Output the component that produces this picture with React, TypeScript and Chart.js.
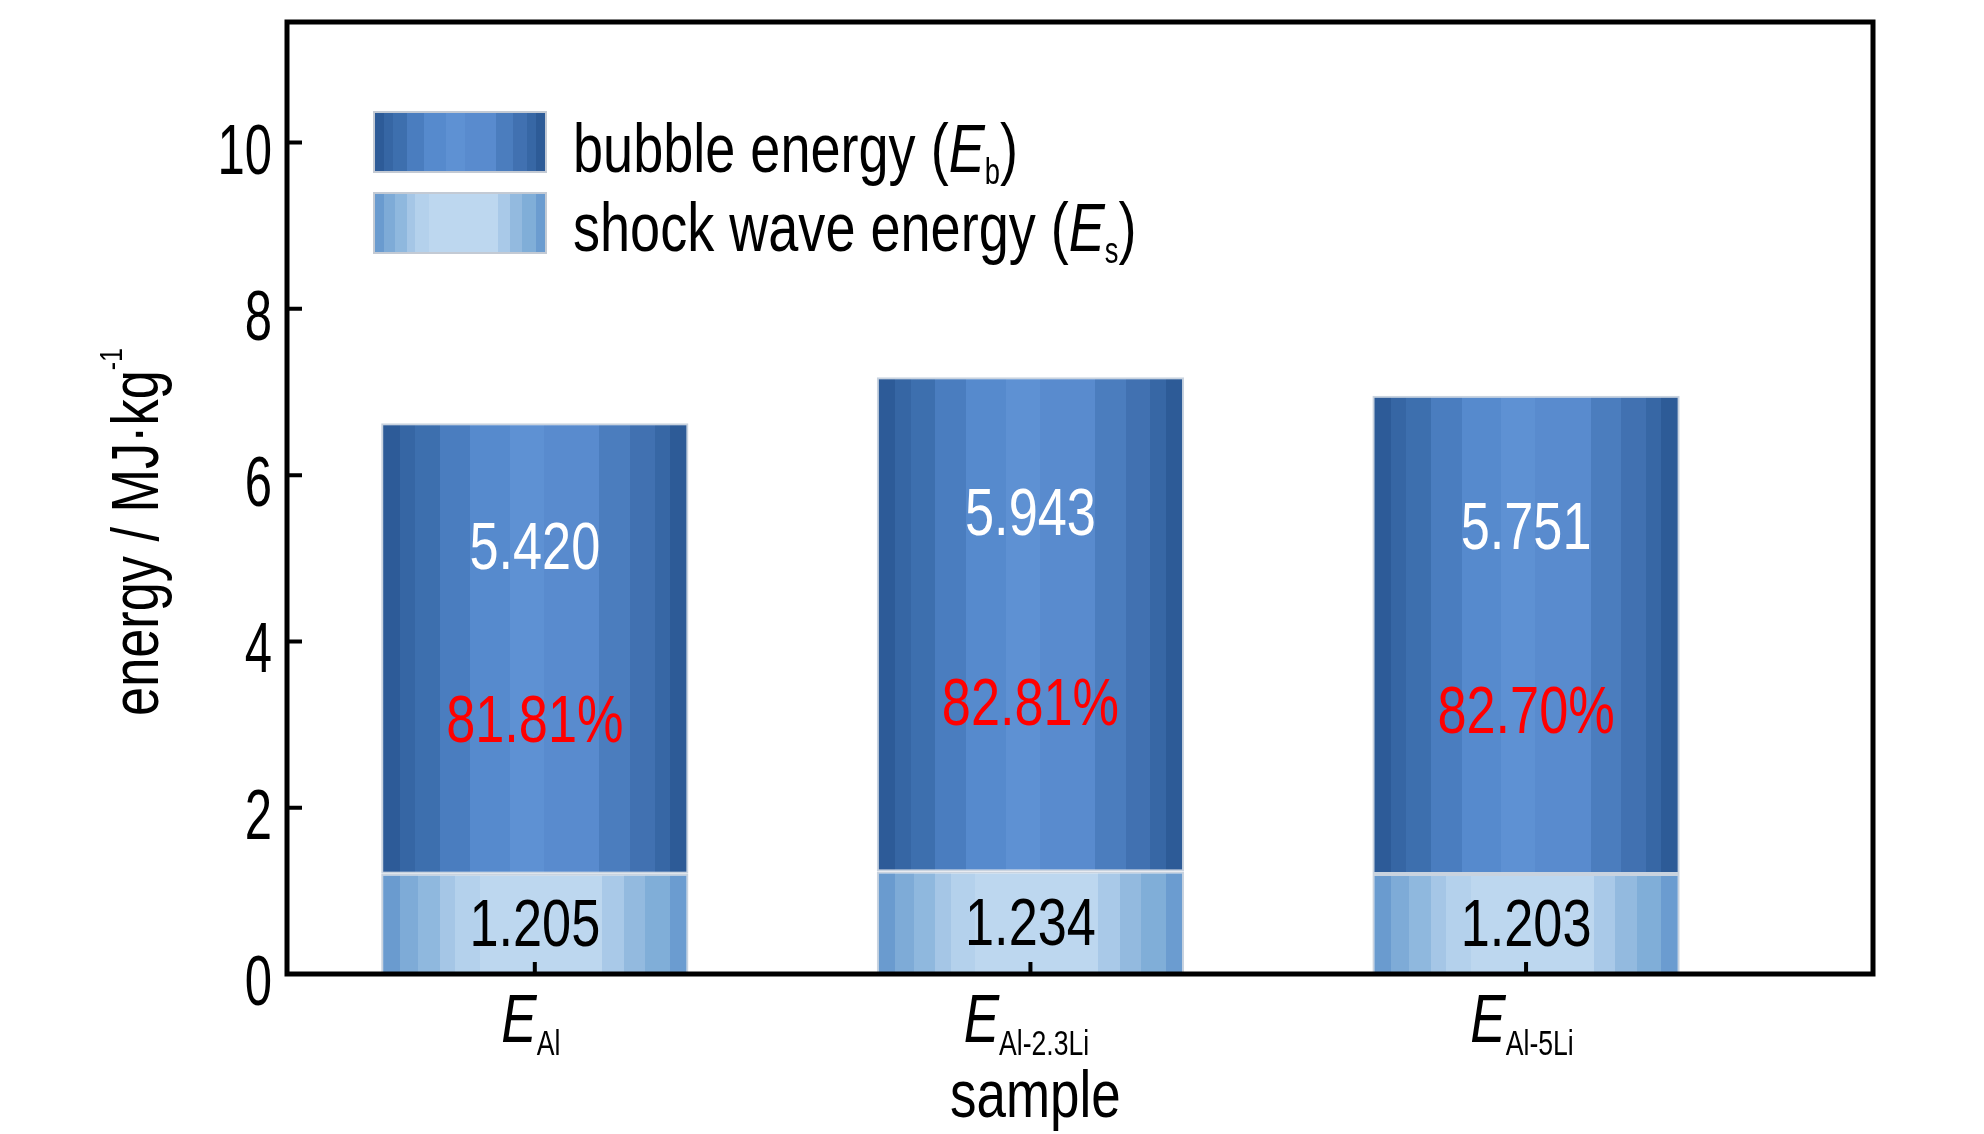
import React, { useEffect, useRef } from 'react';
import { Chart, registerables } from 'chart.js';

Chart.register(...registerables);

const W = 1984;
const H = 1134;

// values
const sampleSubs = ['Al', 'Al-2.3Li', 'Al-5Li'];
const sampleX = [1, 2, 3];
const shockEnergy = [1.205, 1.234, 1.203];
const bubbleEnergy = [5.42, 5.943, 5.751];
const yTicks = [0, 2, 4, 6, 8, 10];

const FONT = '"Liberation Sans", Arial, Helvetica, sans-serif';
const NARROW = 0.78; // the figure uses a condensed face
const BAR_FRAC = 0.62;

// vertical banding of the bars, left to right: [end fraction, colour]
const bubbleBands: [number, string][] = [
  [0.06, '#2d5b98'], [0.11, '#3666a4'], [0.19, '#3d6fae'], [0.29, '#4a7dbf'],
  [0.42, '#568acd'], [0.53, '#5e91d3'], [0.71, '#598bce'], [0.81, '#4b7dbe'],
  [0.89, '#4171b1'], [0.94, '#3767a5'], [1, '#2d5b97'],
];
const shockBands: [number, string][] = [
  [0.06, '#6a9bcf'], [0.12, '#7eabd7'], [0.19, '#8fb8de'], [0.24, '#a5c6e6'],
  [0.32, '#b4d1ec'], [0.72, '#bdd7ef'], [0.79, '#a9c9e8'], [0.86, '#93badf'],
  [0.94, '#80aed8'], [1, '#6b9cd0'],
];

function bandGradient(ctx: CanvasRenderingContext2D, x0: number, x1: number, bands: [number, string][]) {
  const g = ctx.createLinearGradient(x0, 0, x1, 0);
  let prev = 0;
  for (const [end, color] of bands) {
    g.addColorStop(prev, color);
    g.addColorStop(end, color);
    prev = end;
  }
  return g;
}

function barFill(chart: Chart, xv: number, bands: [number, string][]) {
  const xs = chart.scales.x;
  if (!xs) return bands[5][1];
  const unit = xs.getPixelForValue(1) - xs.getPixelForValue(0);
  const cx = xs.getPixelForValue(xv);
  if (!isFinite(unit) || !isFinite(cx) || unit <= 0) return bands[5][1];
  const half = (unit * BAR_FRAC) / 2;
  return bandGradient(chart.ctx, cx - half, cx + half, bands);
}

type Run = { t: string; size: number; italic?: boolean; dy?: number; sx?: number };

function fontOf(r: Run) {
  return `${r.italic ? 'italic ' : ''}${r.size}px ${FONT}`;
}

function runsWidth(ctx: CanvasRenderingContext2D, runs: Run[]) {
  let w = 0;
  for (const r of runs) {
    ctx.font = fontOf(r);
    w += ctx.measureText(r.t).width * (r.sx ?? NARROW);
  }
  return w;
}

// draws a line of mixed runs, y is the alphabetic baseline
function drawRuns(
  ctx: CanvasRenderingContext2D,
  runs: Run[],
  x: number,
  y: number,
  align: 'left' | 'center' | 'right',
  color: string
) {
  const total = runsWidth(ctx, runs);
  let cx = align === 'left' ? x : align === 'center' ? x - total / 2 : x - total;
  ctx.fillStyle = color;
  ctx.textAlign = 'left';
  ctx.textBaseline = 'alphabetic';
  for (const r of runs) {
    const sx = r.sx ?? NARROW;
    ctx.font = fontOf(r);
    const w = ctx.measureText(r.t).width * sx;
    ctx.save();
    ctx.translate(cx, y + (r.dy ?? 0));
    ctx.scale(sx, 1);
    ctx.fillText(r.t, 0, 0);
    ctx.restore();
    cx += w;
  }
}

const decor = {
  id: 'decor',
  afterDraw(chart: Chart) {
    const ctx = chart.ctx;
    const { left, right, top, bottom } = chart.chartArea;
    const xs = chart.scales.x;
    const ys = chart.scales.y;
    ctx.save();

    // frame and inward ticks
    ctx.strokeStyle = '#000';
    ctx.lineWidth = 5;
    ctx.strokeRect(left, top, right - left, bottom - top);
    ctx.lineWidth = 4;
    ctx.beginPath();
    yTicks.forEach((v) => {
      const y = ys.getPixelForValue(v);
      ctx.moveTo(left, y);
      ctx.lineTo(left + 15, y);
    });
    sampleX.forEach((v) => {
      const x = xs.getPixelForValue(v);
      ctx.moveTo(x, bottom);
      ctx.lineTo(x, bottom - 12);
    });
    ctx.stroke();

    // y tick labels
    yTicks.forEach((v) => {
      drawRuns(ctx, [{ t: String(v), size: 70, sx: 0.7 }], left - 15, ys.getPixelForValue(v) + 31, 'right', '#000');
    });

    // x tick labels: E with subscript
    sampleX.forEach((v, i) => {
      drawRuns(
        ctx,
        [
          { t: 'E', size: 68, italic: true },
          { t: sampleSubs[i], size: 35, dy: 13, sx: 0.76 },
        ],
        xs.getPixelForValue(v) - 4,
        bottom + 68,
        'center',
        '#000'
      );
    });

    // axis titles
    drawRuns(ctx, [{ t: 'sample', size: 67, sx: 0.79 }], xs.getPixelForValue(2) + 5, bottom + 143, 'center', '#000');
    ctx.save();
    ctx.translate(158, (top + bottom) / 2 + 34);
    ctx.rotate(-Math.PI / 2);
    drawRuns(
      ctx,
      [
        { t: 'energy / MJ\u00b7kg', size: 67 },
        { t: '-1', size: 32, dy: -36 },
      ],
      0,
      0,
      'center',
      '#000'
    );
    ctx.restore();

    // labels inside the bars
    sampleX.forEach((v, i) => {
      const x = xs.getPixelForValue(v);
      const es = shockEnergy[i];
      const eb = bubbleEnergy[i];
      const pct = ((eb / (eb + es)) * 100).toFixed(2) + '%';
      drawRuns(ctx, [{ t: eb.toFixed(3), size: 67 }], x, ys.getPixelForValue(es + eb * 0.73) + 24, 'center', '#ffffff');
      drawRuns(ctx, [{ t: pct, size: 67 }], x, ys.getPixelForValue(es + eb * 0.345) + 24, 'center', '#ff0000');
      drawRuns(ctx, [{ t: es.toFixed(3), size: 67 }], x, ys.getPixelForValue(es * 0.52) + 24, 'center', '#000');
    });

    // legend
    const legend: { bands: [number, string][]; label: string; sub: string; y: number; base: number }[] = [
      { bands: bubbleBands, label: 'bubble energy (', sub: 'b', y: 112, base: 172 },
      { bands: shockBands, label: 'shock wave energy (', sub: 's', y: 193, base: 251 },
    ];
    legend.forEach((it) => {
      const bx = 374;
      const bw = 172;
      const bh = 60;
      ctx.fillStyle = bandGradient(ctx, bx, bx + bw, it.bands);
      ctx.fillRect(bx, it.y, bw, bh);
      ctx.strokeStyle = '#c3cad4';
      ctx.lineWidth = 2;
      ctx.strokeRect(bx, it.y, bw, bh);
      drawRuns(
        ctx,
        [
          { t: it.label, size: 68, sx: 0.795 },
          { t: 'E', size: 68, italic: true, sx: 0.795 },
          { t: it.sub, size: 36, dy: 12, sx: 0.76 },
          { t: ')', size: 68, sx: 0.795 },
        ],
        573,
        it.base,
        'left',
        '#000'
      );
    });

    ctx.restore();
  },
};

const App: React.FC = () => {
  const canvasRef = useRef<HTMLCanvasElement>(null);
  const chartRef = useRef<Chart | null>(null);

  useEffect(() => {
    document.body.style.margin = '0';
    if (!canvasRef.current) return;
    if (chartRef.current) chartRef.current.destroy();

    chartRef.current = new Chart(canvasRef.current, {
      type: 'bar',
      data: {
        datasets: [
          {
            label: 'shock wave energy (Es)',
            data: sampleX.map((x, i) => ({ x, y: shockEnergy[i] })),
            backgroundColor: (c: any) => barFill(c.chart, sampleX[c.dataIndex] ?? 1, shockBands),
            borderColor: '#c9d3df',
            borderWidth: 2,
            borderSkipped: false,
            barPercentage: BAR_FRAC,
            categoryPercentage: 1,
          },
          {
            label: 'bubble energy (Eb)',
            data: sampleX.map((x, i) => ({ x, y: bubbleEnergy[i] })),
            backgroundColor: (c: any) => barFill(c.chart, sampleX[c.dataIndex] ?? 1, bubbleBands),
            borderColor: '#c9d3df',
            borderWidth: 2,
            borderSkipped: false,
            barPercentage: BAR_FRAC,
            categoryPercentage: 1,
          },
        ],
      },
      options: {
        responsive: false,
        animation: false,
        devicePixelRatio: 1,
        layout: { padding: { left: 287, right: 111, top: 22, bottom: 160 } },
        plugins: {
          legend: { display: false },
          tooltip: { enabled: false },
        },
        scales: {
          x: {
            type: 'linear',
            display: false,
            offset: false,
            min: 0.5,
            max: 3.7,
            stacked: true,
            afterBuildTicks: (s: any) => {
              s.ticks = sampleX.map((value) => ({ value }));
            },
          },
          y: { display: false, min: 0, max: 11.45, stacked: true },
        },
      },
      plugins: [decor],
    } as any);

    return () => {
      if (chartRef.current) {
        chartRef.current.destroy();
        chartRef.current = null;
      }
    };
  }, []);

  return (
    <div style={{ width: W, height: H, background: '#fff' }}>
      <canvas ref={canvasRef} width={W} height={H}></canvas>
    </div>
  );
};

export default App;
